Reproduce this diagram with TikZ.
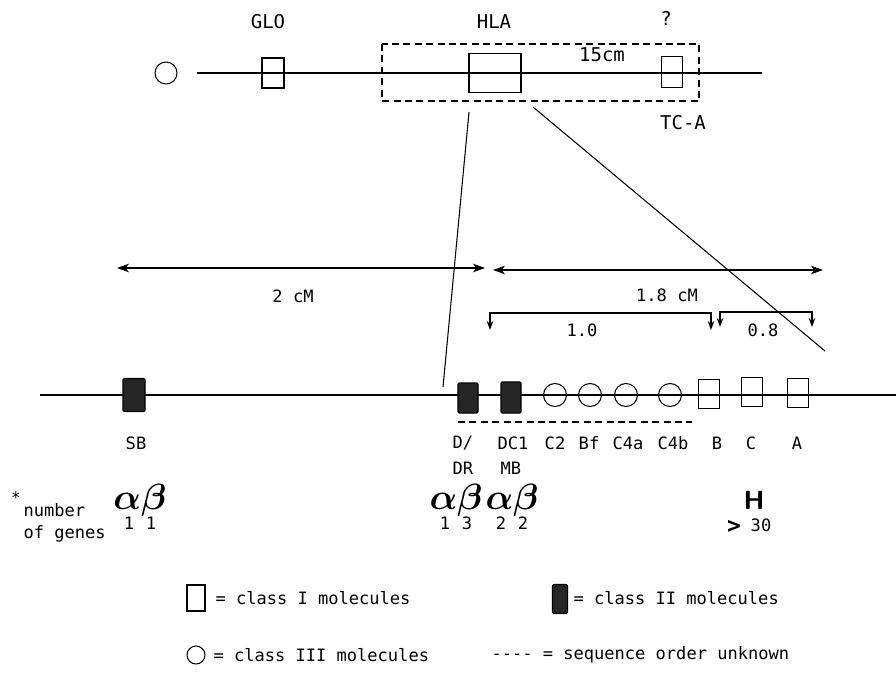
\documentclass[tikz,border=0pt]{standalone}
\usepackage{fontspec}
\setmonofont{DejaVu Sans Mono}
\usetikzlibrary{positioning,arrows.meta}
\tikzset{
  classI/.style={draw,minimum width=0.42cm,minimum height=0.58cm,inner sep=0pt},
  classII/.style={classI,fill=black!85,rounded corners=0.6pt},
  classIII/.style={draw,circle,minimum size=0.46cm,inner sep=0pt},
  txt/.style={font=\ttfamily\fontsize{9.7}{11}\selectfont,inner sep=0pt},
  toptxt/.style={font=\ttfamily\fontsize{10.8}{12}\selectfont,inner sep=0pt},
  greek/.style={font=\boldmath\fontsize{22}{22}\selectfont,inner sep=0pt},
  dist/.style={<->,>={Stealth[length=2.4mm,width=1.7mm,inset=0.7mm]}},
  brk/.style={<->,>={Stealth[length=1.8mm,width=1.3mm]}},
}
\begin{document}
\begin{tikzpicture}[x=0.2cm,y=-0.2cm,line width=0.6pt]
        \useasboundingbox (0,0) rectangle (89.6,68.2);

        % upper chromosome
        \coordinate (top0) at (19.7,7.3);
        \coordinate (top1) at (76.2,7.3);
        \draw (top0)--(top1);
        \node[classIII,minimum size=0.44cm](blank)at(16.6,7.3){};
        \node[classI,minimum width=0.44cm,minimum height=0.6cm](glo)at(27.3,7.3){};
        \node[classI,minimum width=1.04cm,minimum height=0.78cm](hla)at(49.5,7.3){};
        \node[classI,minimum height=0.62cm](tca)at(67.2,7.2){};
        \node[toptxt](glolbl)at(26.8,2.2){GLO};
        \node[toptxt](hlalbl)at(49.4,2.2){HLA};
        \node[toptxt](qlbl)at(66.6,1.8){?};
        \node[toptxt](tcalbl)at(68.3,12.3){TC-A};
        \node[toptxt](cmlbl)at(60.2,5.5){15cm};
        \draw[dashed,dash pattern=on 4pt off 2.5pt](38.2,4.4)rectangle(69.9,10.1);

        % zoom lines
        \coordinate (l0) at (46.9,11.2);
        \coordinate (l1) at (44.3,38.7);
        \coordinate (r0) at (53.3,10.7);
        \coordinate (r1) at (82.5,35.1);
        \draw (l0)--(l1);
        \draw (r0)--(r1);

        % distances
        \coordinate (twoL) at (11.7,26.8);
        \coordinate (twoR) at (48.5,26.8);
        \coordinate (oneL) at (49.3,27.0);
        \coordinate (oneR) at (82.3,27.0);
        \draw[dist] (twoL)--(twoR);
        \draw[dist] (oneL)--(oneR);
        \node[txt](twolbl)at(29.3,29.6){2 cM};
        \node[txt](onelbl)at(66.7,29.5){1.8 cM};
        \coordinate (aL) at (49.0,33.0);
        \coordinate (aR) at (71.1,33.0);
        \coordinate (bL) at (72.0,32.7);
        \coordinate (bR) at (81.2,32.7);
        \draw[brk] (aL)--++(0,-1.7)-|(aR);
        \draw[brk] (bL)--++(0,-1.5)-|(bR);
        \node[txt](alpl)at(58.2,33.0){1.0};
        \node[txt](blbl)at(76.3,33.0){0.8};

        % lower chromosome
        \coordinate (bot0) at (4.0,39.5);
        \coordinate (bot1) at (89.6,39.5);
        \draw (bot0)--(bot1);
        \node[classII,minimum width=0.44cm,minimum height=0.66cm](sb)at(13.4,39.5){};
        \node[classII,minimum width=0.4cm,minimum height=0.6cm](ddr)at(46.8,39.8){};
        \node[classII,minimum width=0.4cm,minimum height=0.62cm](dc1)at(51.1,39.75){};
        \foreach \n/\x in {c2/55.5,bf/59.0,c4a/62.6,c4b/67.0}
          \node[classIII](\n)at(\x,39.5){};
        \node[classI](b)at(70.9,39.4){};
        \node[classI](c)at(75.2,39.2){};
        \node[classI](a)at(79.8,39.3){};
        \coordinate (dsh0) at (45.8,42.2);
        \coordinate (dsh1) at (69.2,42.2);
        \draw[dashed,dash pattern=on 4pt off 2.5pt](dsh0)--(dsh1);

        \node[txt](sblbl)at(13.6,44.3){SB};
        \node[txt,anchor=west](dlbl)at(45.2,44.3){D/};
        \node[txt,anchor=west](drlbl)at(45.2,46.8){DR};
        \node[txt,anchor=west](dclbl)at(49.7,44.3){DC1};
        \node[txt,anchor=west](mblbl)at(50.0,46.8){MB};
        \foreach \n/\x/\t in {c2l/55.5/C2,bfl/58.9/Bf,c4al/62.8/C4a,c4bl/67.3/C4b,bl/71.7/B,cl/75.1/C,al/79.7/A}
          \node[txt](\n)at(\x,44.3){\t};

        % number of genes
        \node[font=\ttfamily\fontsize{9}{9}\selectfont,inner sep=0pt](star)at(1.6,49.8){*};
        \node[txt,anchor=west](numlbl)at(2.3,51.0){number};
        \node[txt,anchor=west](genlbl)at(2.3,53.4){of genes};
        \foreach \n/\x/\p/\q in {sbg/14.0/1/1,ddrg/45.6/1/3,dcg/51.2/2/2}{
          \node[greek](\n)at(\x,50.0){$\alpha\beta$};
          \node[txt](\n a)at(\x-1.1,52.3){\p};
          \node[txt](\n b)at(\x+1.1,52.3){\q};
        }
        \node[font=\sffamily\bfseries\fontsize{15}{15}\selectfont,inner sep=0pt](hg)at(75.4,50.0){H};
        \node[font=\ttfamily\bfseries\fontsize{13}{13}\selectfont,inner sep=0pt](gt)at(73.4,52.7){>};
        \node[txt](thirty)at(76.1,52.5){30};

        % legend
        \node[classI,minimum width=0.36cm,minimum height=0.52cm](k1)at(19.6,59.8){};
        \node[txt,anchor=west](k1l)at(21.5,59.8){= class I molecules};
        \node[classII,minimum width=0.3cm,minimum height=0.58cm](k2)at(56.0,59.9){};
        \node[txt,anchor=west](k2l)at(57.3,59.8){= class II molecules};
        \node[classIII,minimum size=0.36cm](k3)at(19.6,65.5){};
        \node[txt,anchor=west](k3l)at(21.3,65.5){= class III molecules};
        \node[txt,anchor=west](k4l)at(49.1,65.5){---- = sequence order unknown};
\end{tikzpicture}
\end{document}
